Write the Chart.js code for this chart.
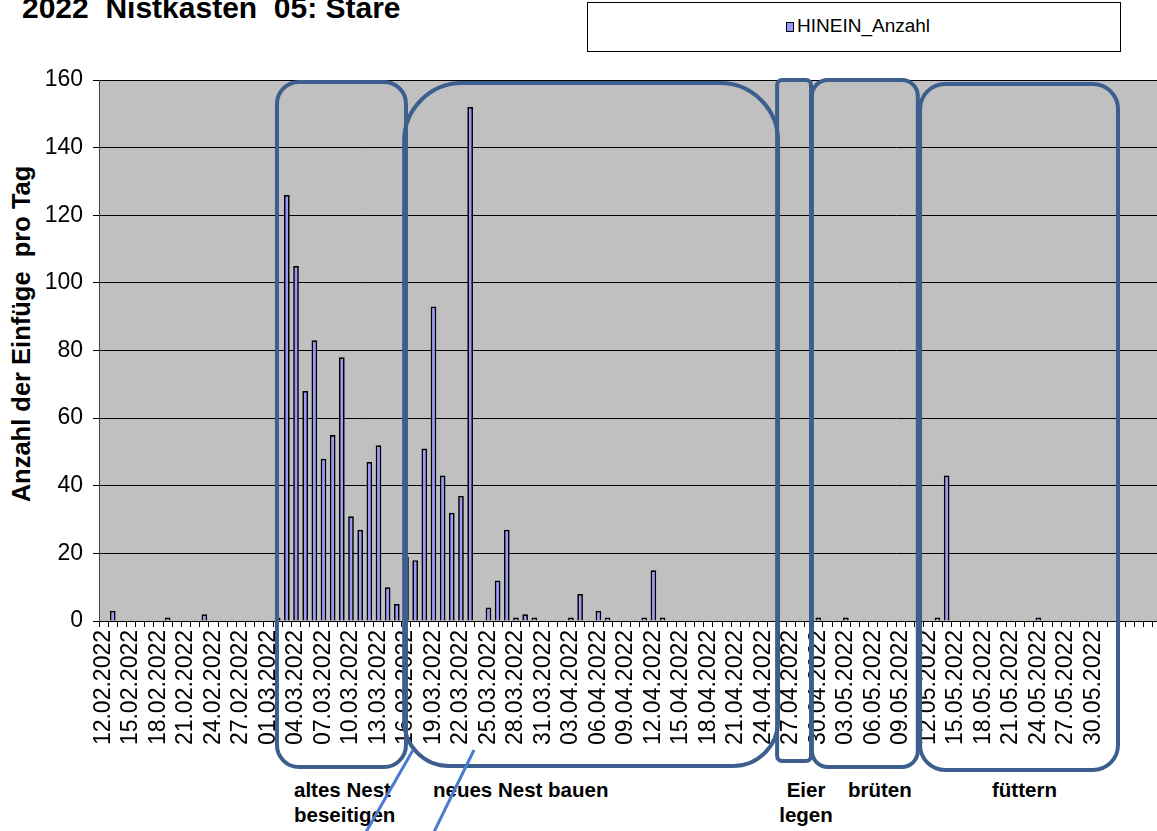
<!DOCTYPE html>
<html>
<head>
<meta charset="utf-8">
<title>2022 Nistkasten 05: Stare</title>
<script src="https://cdn.jsdelivr.net/npm/chart.js"></script>
<style>
  body { margin: 0; width: 1157px; height: 831px; overflow: hidden; background: #fff; font-family: 'Liberation Sans', Arial, sans-serif; color: #000; }
  .title { position: absolute; left: 22px; top: -7px; font-size: 30px; font-weight: bold; line-height: 30px; white-space: pre; }
  .legend { position: absolute; left: 587px; top: 2px; width: 532px; height: 48px; border: 1px solid #000; background: #fff; }
  .legend .swatch { position: absolute; left: 198px; top: 19px; width: 6px; height: 8px; background: #9999ff; border: 1px solid #000; }
  .legend .label { position: absolute; left: 209px; top: 13px; font-size: 19px; line-height: 20px; }
  .ytitle { position: absolute; left: 21px; top: 334px; transform: translate(-50%, -50%) rotate(-90deg); font-size: 25.5px; font-weight: bold; line-height: 28px; white-space: pre; }
  .phase { position: absolute; font-size: 20.5px; font-weight: bold; line-height: 25px; white-space: pre; }
  #wrap { position: absolute; left: 0; top: 0; width: 1162px; height: 831px; }
</style>
</head>
<body>
  <div class="title">2022  Nistkasten  05: Stare</div>
  <div class="legend"><span class="swatch"></span><span class="label">HINEIN_Anzahl</span></div>
  <div class="ytitle">Anzahl der Einfüge  pro Tag</div>

  <div class="phase" style="left:294px; top:777px;">altes Nest
beseitigen</div>
  <div class="phase" style="left:433px; top:777px;">neues Nest bauen</div>
  <div class="phase" style="left:776px; top:777px; text-align:center; width:60px;">Eier
legen</div>
  <div class="phase" style="left:848px; top:777px;">brüten</div>
  <div class="phase" style="left:992px; top:777px;">füttern</div>

  <div id="wrap"><canvas id="chart" width="1162" height="831"></canvas></div>

<script>
// every third day gets a label on the x axis
const tickLabels = [
  '12.02.2022', '15.02.2022', '18.02.2022', '21.02.2022', '24.02.2022', '27.02.2022',
  '01.03.2022', '04.03.2022', '07.03.2022', '10.03.2022', '13.03.2022', '16.03.2022',
  '19.03.2022', '22.03.2022', '25.03.2022', '28.03.2022', '31.03.2022', '03.04.2022',
  '06.04.2022', '09.04.2022', '12.04.2022', '15.04.2022', '18.04.2022', '21.04.2022',
  '24.04.2022', '27.04.2022', '30.04.2022', '03.05.2022', '06.05.2022', '09.05.2022',
  '12.05.2022', '15.05.2022', '18.05.2022', '21.05.2022', '24.05.2022', '27.05.2022',
  '30.05.2022'
];

// HINEIN_Anzahl, one value per day starting 12.02.2022
const hineinAnzahl = [
  0, 3, 0, 0, 0, 0, 0, 1, 0, 0,
  0, 2, 0, 0, 0, 0, 0, 0, 0, 1,
  126, 105, 68, 83, 48, 55, 78, 31, 27, 47,
  52, 10, 5, 19, 18, 51, 93, 43, 32, 37,
  152, 0, 4, 12, 27, 1, 2, 1, 0, 0,
  0, 1, 8, 0, 3, 1, 0, 0, 0, 1,
  15, 1, 0, 0, 0, 0, 0, 0, 0, 0,
  0, 0, 0, 0, 0, 0, 0, 0, 1, 0,
  0, 1, 0, 0, 0, 0, 0, 0, 0, 0,
  0, 1, 43, 0, 0, 0, 0, 0, 0, 0,
  0, 0, 1, 0, 0, 0, 0, 0, 0, 0,
  0, 0, 0, 0, 0, 0
];

const categories = hineinAnzahl.map((v, i) => (i % 3 === 0 && tickLabels[i / 3]) || '');

// phase frames, in category index units (x) and pixels (y)
const phaseBoxes = [
  { from: 18.92, to: 33.0, top: 82, bottom: 767, rTop: 22, rBottom: 22 },
  { from: 32.8, to: 73.6, top: 83, bottom: 766, rTop: 58, rBottom: 45 },
  { from: 73.5, to: 77.2, top: 80, bottom: 761, rTop: 5, rBottom: 5 },
  { from: 77.3, to: 88.85, top: 80, bottom: 767, rTop: 16, rBottom: 16 },
  { from: 89.1, to: 110.7, top: 84, bottom: 770, rTop: 25, rBottom: 25 }
];
const pointers = [
  { x0: 413, y0: 750, x1: 366, y1: 832 },
  { x0: 474, y0: 750, x1: 434, y1: 832 }
];

const FONT = "'Liberation Sans', Arial, sans-serif";

const plotBackground = {
  id: 'plotBackground',
  beforeDraw(chart) {
    const { ctx, chartArea: a } = chart;
    ctx.save();
    ctx.fillStyle = '#c0c0c0';
    ctx.fillRect(a.left, a.top, a.right - a.left, a.bottom - a.top);
    ctx.restore();
  }
};

function roundedBox(ctx, x0, y0, x1, y1, rt, rb) {
  ctx.beginPath();
  ctx.moveTo(x0 + rt, y0);
  ctx.lineTo(x1 - rt, y0);
  ctx.arcTo(x1, y0, x1, y0 + rt, rt);
  ctx.lineTo(x1, y1 - rb);
  ctx.arcTo(x1, y1, x1 - rb, y1, rb);
  ctx.lineTo(x0 + rb, y1);
  ctx.arcTo(x0, y1, x0, y1 - rb, rb);
  ctx.lineTo(x0, y0 + rt);
  ctx.arcTo(x0, y0, x0 + rt, y0, rt);
  ctx.closePath();
}

const phaseFrames = {
  id: 'phaseFrames',
  afterDraw(chart) {
    const { ctx } = chart;
    const x = chart.scales.x;
    ctx.save();
    ctx.strokeStyle = '#3c5f8e';
    ctx.lineWidth = 4;
    phaseBoxes.forEach(b => {
      roundedBox(ctx, x.getPixelForValue(b.from), b.top, x.getPixelForValue(b.to), b.bottom, b.rTop, b.rBottom);
      ctx.stroke();
    });
    ctx.strokeStyle = '#4a7bd0';
    ctx.lineWidth = 3;
    pointers.forEach(p => {
      ctx.beginPath();
      ctx.moveTo(p.x0, p.y0);
      ctx.lineTo(p.x1, p.y1);
      ctx.stroke();
    });
    ctx.restore();
  }
};

new Chart(document.getElementById('chart'), {
  type: 'bar',
  data: {
    labels: categories,
    datasets: [{
      label: 'HINEIN_Anzahl',
      data: hineinAnzahl,
      backgroundColor: '#9999ff',
      borderColor: '#000',
      borderWidth: 1.7,
      barPercentage: 0.62,
      categoryPercentage: 1
    }]
  },
  options: {
    responsive: false,
    devicePixelRatio: 1,
    animation: false,
    layout: { padding: { top: 80, left: 0, right: 0, bottom: 0 } },
    plugins: { legend: { display: false }, tooltip: { enabled: false }, title: { display: false } },
    scales: {
      x: {
        afterFit(scale) {
          scale.height = 210;
          scale.paddingLeft = 0;
          scale.paddingRight = 0;
        },
        grid: { drawOnChartArea: false, drawTicks: true, tickLength: 6, color: '#000' },
        border: { display: true, color: '#000', width: 1 },
        ticks: {
          autoSkip: false, maxRotation: 90, minRotation: 90, padding: 3,
          color: '#000', font: { family: FONT, size: 23 }
        }
      },
      y: {
        min: 0,
        max: 160,
        afterFit(scale) { scale.width = 99; },
        grid: { color: '#000', lineWidth: 1, tickLength: 6 },
        border: { display: true, color: '#404040', width: 1 },
        ticks: { stepSize: 20, padding: 10, color: '#000', font: { family: FONT, size: 23 } }
      }
    }
  },
  plugins: [plotBackground, phaseFrames]
});
</script>
</body>
</html>
